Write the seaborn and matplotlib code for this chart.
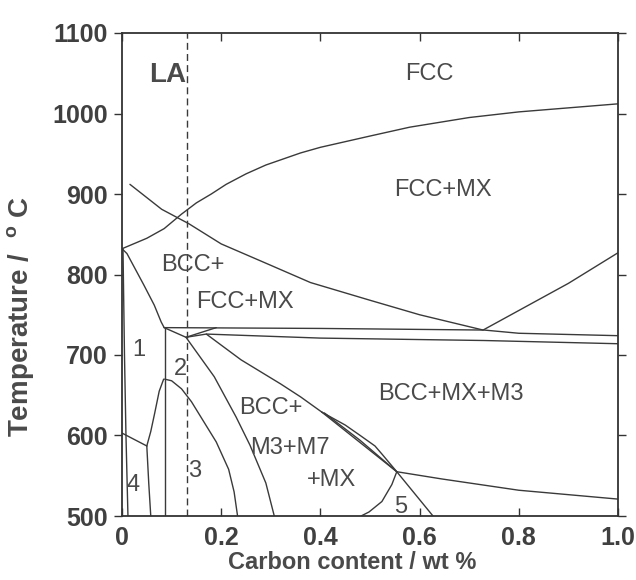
import matplotlib
matplotlib.use("Agg")
import matplotlib.pyplot as plt
import seaborn as sns
import numpy as np

sns.set_style("ticks")
plt.rcParams['font.family'] = ['Liberation Sans', 'DejaVu Sans']
plt.rcParams['mathtext.fontset'] = 'custom'
plt.rcParams['mathtext.rm'] = 'Liberation Sans:bold'
plt.rcParams['mathtext.bf'] = 'Liberation Sans:bold'

# ---- phase boundaries (carbon wt %, temperature degC) ----
fcc_x = [0, 0.05, 0.085, 0.12, 0.15, 0.18, 0.21, 0.25, 0.29, 0.36, 0.40, 0.50, 0.58, 0.70, 0.80, 0.90, 1.0]
fcc_t = [832, 845, 857, 875, 889, 900, 912, 925, 936, 951, 958, 972, 983, 995, 1002, 1007, 1012]

fccmx_x = [0.016, 0.08, 0.135, 0.20, 0.294, 0.38, 0.50, 0.60, 0.728, 0.90, 1.0]
fccmx_t = [912, 881, 863, 838, 813, 790, 768, 750, 731, 789, 827]

bccfcc_x = [0, 0.01, 0.044, 0.065, 0.079, 0.085]
bccfcc_t = [832, 826, 787, 762, 741, 734]

upper_x = [0.085, 0.40, 0.73, 0.80, 1.0]
upper_t = [734, 733, 731, 727, 724]

corner_x = [0.085, 0.129, 0.19]
corner_t = [734, 722, 734]

lower_x = [0.129, 0.17, 0.40, 0.73, 1.0]
lower_t = [722, 726, 721, 718, 714]

edge_x = [0.002, 0.005, 0.008, 0.012]
edge_t = [832, 700, 600, 500]

r4top_x = [0, 0.05]
r4top_t = [603, 587]

r4right_x = [0.05, 0.054, 0.058]
r4right_t = [587, 540, 500]

r1right_x = [0.05, 0.058, 0.066, 0.075, 0.084]
r1right_t = [587, 605, 628, 655, 670]

vert_x = [0.086, 0.086]
vert_t = [734, 500]

r3_x = [0.086, 0.1, 0.12, 0.14, 0.19, 0.215, 0.226, 0.233]
r3_t = [670, 668, 658, 642, 592, 558, 530, 500]

r2_x = [0.129, 0.186, 0.23, 0.258, 0.29, 0.307]
r2_t = [722, 673, 623, 588, 541, 500]

m3low_x = [0.17, 0.24, 0.32, 0.36, 0.403]
m3low_t = [726, 694, 664, 648, 629]

lens_up_x = [0.403, 0.45, 0.478, 0.51, 0.524, 0.554]
lens_up_t = [629, 613, 601, 587, 577, 555]

lens_a_x = [0.403, 0.554]
lens_a_t = [629, 555]

lens_b_x = [0.408, 0.48, 0.554]
lens_b_t = [628, 594, 555]

m7right_x = [0.554, 0.645, 0.80, 1.0]
m7right_t = [555, 546, 532, 521]

r5right_x = [0.554, 0.627]
r5right_t = [555, 500]

r5left_x = [0.554, 0.544, 0.524, 0.498, 0.482]
r5left_t = [555, 539, 518, 505, 500]

la_x = [0.132, 0.132]
la_t = [500, 1100]

# ---- labels ----
region_text = ["FCC", "FCC+MX", "BCC+", "FCC+MX", "1", "2", "3", "4",
               "BCC+", "M3+M7", "+MX", "5", "BCC+MX+M3"]
region_x = [0.62, 0.647, 0.143, 0.248, 0.034, 0.117, 0.147, 0.022,
            0.30, 0.338, 0.423, 0.5625, 0.663]
region_t = [1049, 905, 812, 766, 706, 683, 556, 539,
            634, 585, 545, 511, 652]

xticks = [0, 0.2, 0.4, 0.6, 0.8, 1.0]
xtick_labels = ["0", "0.2", "0.4", "0.6", "0.8", "1.0"]
yticks = [500, 600, 700, 800, 900, 1000, 1100]

fig = plt.figure(figsize=(6.36, 5.80), dpi=100)
ax = fig.add_axes([122/636, 1 - 516/580, 496/636, 483/580])

lc = "#3a3a3a"
lw = 1.0
curves = [(fcc_x, fcc_t), (fccmx_x, fccmx_t), (bccfcc_x, bccfcc_t),
          (upper_x, upper_t), (corner_x, corner_t), (lower_x, lower_t),
          (edge_x, edge_t), (r4top_x, r4top_t), (r4right_x, r4right_t),
          (r1right_x, r1right_t), (vert_x, vert_t), (r3_x, r3_t),
          (r2_x, r2_t), (m3low_x, m3low_t), (lens_up_x, lens_up_t),
          (lens_a_x, lens_a_t), (lens_b_x, lens_b_t), (m7right_x, m7right_t),
          (r5right_x, r5right_t), (r5left_x, r5left_t)]
for cx, ct in curves:
    sns.lineplot(x=cx, y=ct, ax=ax, sort=False, estimator=None,
                 color=lc, linewidth=lw)

sns.lineplot(x=la_x, y=la_t, ax=ax, sort=False, estimator=None,
             color=lc, linewidth=1.0, linestyle=(0, (5, 3)))

tc = "#4a4a4a"
for s, px, pt in zip(region_text, region_x, region_t):
    ax.text(px, pt, s, ha="center", va="center", fontsize=17, color=tc)
ax.text(0.091, 1048, "LA", ha="center", va="center", fontsize=20,
        fontweight="bold", color=tc)

ax.set_xlim(0, 1.0)
ax.set_ylim(500, 1100)
ax.set_xticks(xticks)
ax.set_xticklabels(xtick_labels)
ax.set_yticks(yticks)

for sp in ax.spines.values():
    sp.set_visible(True)
    sp.set_linewidth(1.3)
    sp.set_color("#333333")

ax.tick_params(axis="x", which="both", direction="in", top=True, bottom=True,
               length=6, width=1, color="#333333", pad=7,
               labelsize=18, labelcolor="#404040")
ax.tick_params(axis="y", which="both", direction="out", left=True, right=True,
               length=6, width=1, color="#333333", pad=4,
               labelsize=18, labelcolor="#404040")
for lab in ax.get_xticklabels() + ax.get_yticklabels():
    lab.set_fontweight("bold")

ax.set_xlabel("Carbon content / wt %", fontsize=17, fontweight="bold",
              color="#4a4a4a")
ax.set_ylabel(r"Temperature /  $^{\rm o}$ C", fontsize=20, fontweight="bold",
              color="#4a4a4a")
ax.xaxis.set_label_coords(0.465, -0.072)
ax.yaxis.set_label_coords(-0.171, 0.412)

fig.savefig("out.png", dpi=100, facecolor="white")
